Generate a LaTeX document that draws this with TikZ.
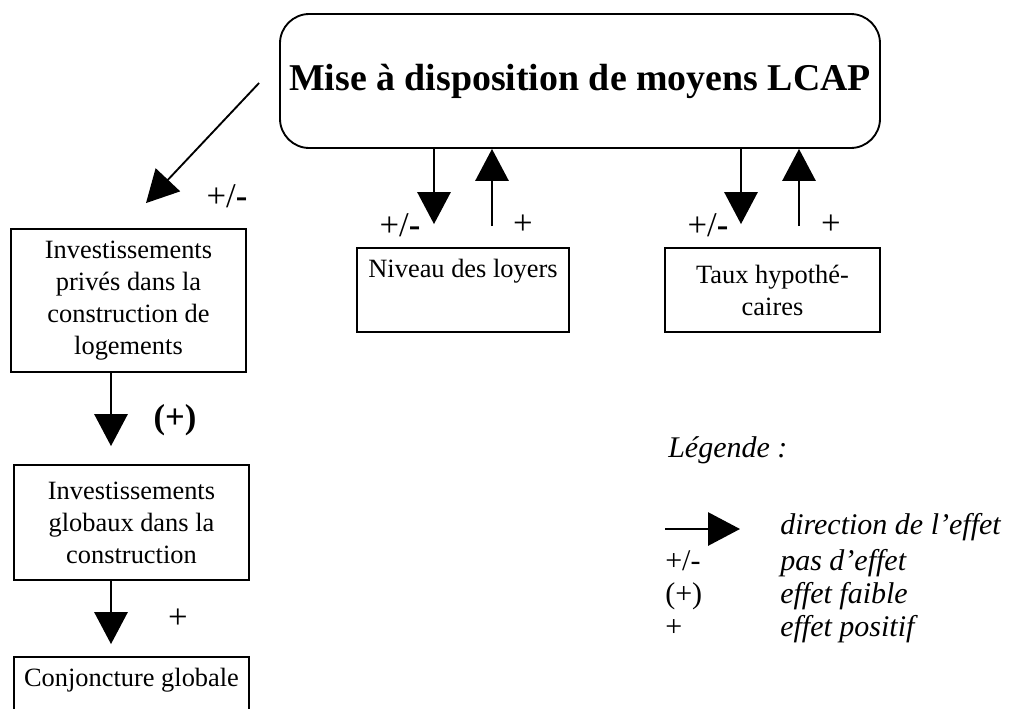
\documentclass[tikz,border=0pt]{standalone}
\usepackage{fontspec}
\setmainfont{Liberation Serif}
\usetikzlibrary{arrows.meta,calc}
\begin{document}
\begin{tikzpicture}[x=0.75pt,y=-0.75pt,
  box/.style={draw,line width=1.4pt,rectangle,inner sep=0pt,align=center,font=\fontsize{19.8}{24}\selectfont},
  arr/.style={line width=1.4pt,-{Triangle[length=24pt,width=25pt]}},
  lbl/.style={inner sep=0pt,font=\fontsize{26}{30}\selectfont},
  leg/.style={inner sep=0pt,anchor=base west,font=\fontsize{22.5}{27}\selectfont\itshape},
  legk/.style={inner sep=0pt,anchor=base west,font=\fontsize{22.5}{27}\selectfont}]
\useasboundingbox (0,0) rectangle (1018,708);
\clip (0,0) rectangle (1018,708);

% boxes
\node[box,rounded corners=22pt,minimum width=450pt,minimum height=100.5pt,
      font=\fontsize{28.4}{34}\selectfont\bfseries] (main) at (580,81) {Mise à disposition de moyens LCAP};
\node[box,minimum width=159pt,minimum height=63pt] (niv) at (463,290) {Niveau des loyers\\[8pt]\mbox{}};
\node[box,minimum width=161.25pt,minimum height=63pt] (taux) at (772.5,290) {Taux hypothé-\\caires};
\node[box,minimum width=176.25pt,minimum height=107.25pt] (inv1) at (128.5,300.5) {Investissements\\privés dans la\\construction de\\logements};
\node[box,minimum width=176.25pt,minimum height=86.25pt] (inv2) at (131.5,522.5) {Investissements\\globaux dans la\\construction};
\node[box,minimum width=176.25pt,minimum height=63pt] (conj) at (131.5,699) {Conjoncture globale\\[8pt]\mbox{}};

% arrow x positions
\coordinate (d1) at (434,0);
\coordinate (u1) at (492,0);
\coordinate (d2) at (741,0);
\coordinate (u2) at (799,0);

\draw[arr] (main.south -| d1) -- ($(niv.north -| d1)+(0,-23)$);
\draw[arr] ($(niv.north -| u1)+(0,-21)$) -- (main.south -| u1);
\draw[arr] (main.south -| d2) -- ($(taux.north -| d2)+(0,-23)$);
\draw[arr] ($(taux.north -| u2)+(0,-21)$) -- (main.south -| u2);

\draw[arr] ($(main.west)+(-20,2)$) -- ($(inv1.north)+(17.5,-25)$);
\draw[arr] ($(inv1.south)+(-17.5,0)$) -- ($(inv2.north)+(-20.5,-18)$);
\draw[arr] ($(inv2.south)+(-20.5,0)$) -- ($(conj.north)+(-20.5,-12)$);

% labels
\node[lbl] (l0) at (227,196) {+/\textbf{-}};
\node[lbl] (l1) at (400,225) {+/\textbf{-}};
\node[lbl] (l2) at (523,225) {+};
\node[lbl] (l3) at (708,225) {+/\textbf{-}};
\node[lbl] (l4) at (831,225) {+};
\node[lbl,font=\fontsize{26}{30}\selectfont\bfseries] (l5) at (175,420) {(+)};
\node[lbl] (l6) at (178,619) {+};

% legend
\node[leg] (legt) at (668,457) {Légende :};
\coordinate (la) at (665,529);
\coordinate (lb) at (740,529);
\draw[arr] (la) -- (lb);
\node[leg] (e1) at (780,534) {direction de l’effet};
\node[legk] (k2) at (665,570) {+/-};
\node[leg] (e2) at (780,570) {pas d’effet};
\node[legk] (k3) at (665,603) {(+)};
\node[leg] (e3) at (780,603) {effet faible};
\node[legk] (k4) at (665,636) {+};
\node[leg] (e4) at (780,636) {effet positif};
\end{tikzpicture}
\end{document}
